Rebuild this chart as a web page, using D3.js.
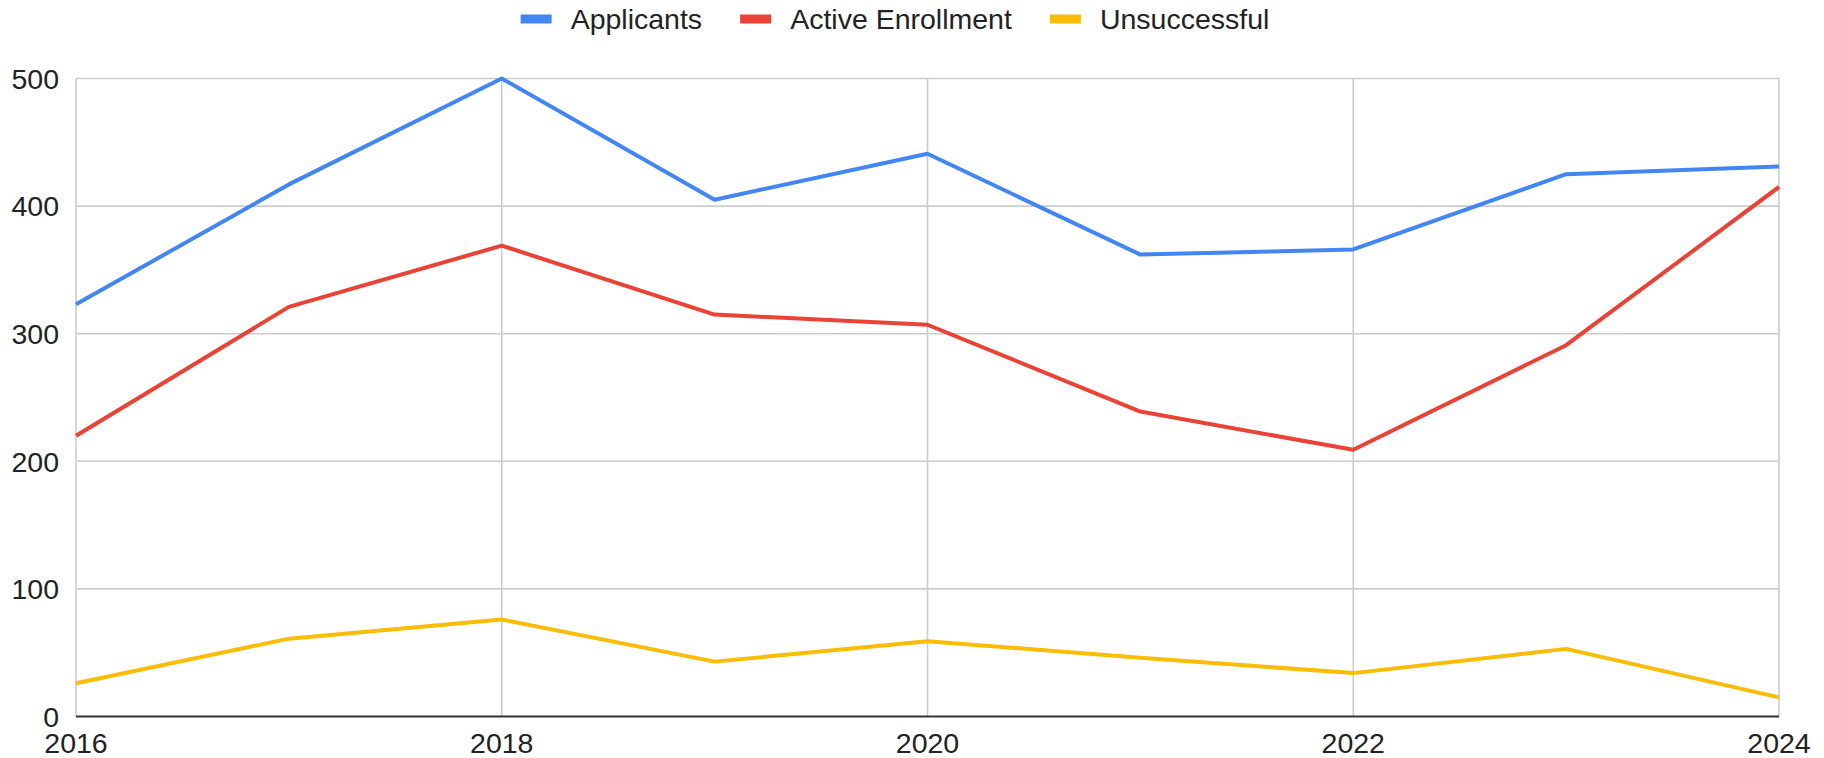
<!DOCTYPE html>
<html>
<head>
<meta charset="utf-8">
<script src="https://cdn.jsdelivr.net/npm/d3@7"></script>
<style>
  html, body { margin: 0; padding: 0; background: #fff; }
  svg { display: block; font-family: "Liberation Sans", Arial, sans-serif; }
</style>
</head>
<body>
<svg id="chart" width="1824" height="758"></svg>
<script>
const years = [2016, 2017, 2018, 2019, 2020, 2021, 2022, 2023, 2024];
const applicants = [323, 417, 500, 405, 441, 362, 366, 425, 431];
const activeEnrollment = [220, 321, 369, 315, 307, 239, 209, 291, 415];
const unsuccessful = [26, 61, 76, 43, 59, 46, 34, 53, 15];
const seriesNames = ["Applicants", "Active Enrollment", "Unsuccessful"];
const seriesColors = ["#4285F4", "#EA4335", "#FBBC04"];
const yTicks = [0, 100, 200, 300, 400, 500];
const xTicks = [2016, 2018, 2020, 2022, 2024];

const series = [applicants, activeEnrollment, unsuccessful].map((vals, i) => ({
  name: seriesNames[i],
  color: seriesColors[i],
  values: vals.map((v, j) => ({ year: years[j], value: v }))
}));

const svg = d3.select("#chart");
const margin = { top: 78.5, right: 45, bottom: 41.5, left: 76 };
const width = 1824, height = 758;

const x = d3.scaleLinear()
  .domain([2016, 2024])
  .range([margin.left, width - margin.right]);

const y = d3.scaleLinear()
  .domain([0, 500])
  .range([height - margin.bottom, margin.top]);

const FONT = 28.5;
const TEXT = "#222222";
const GRID = "#cccccc";

// horizontal grid
svg.append("g")
  .selectAll("line")
  .data(yTicks.filter(d => d !== 0))
  .join("line")
  .attr("x1", x.range()[0])
  .attr("x2", x.range()[1])
  .attr("y1", d => y(d))
  .attr("y2", d => y(d))
  .attr("stroke", GRID)
  .attr("stroke-width", 1.6);

// vertical grid
svg.append("g")
  .selectAll("line")
  .data(xTicks)
  .join("line")
  .attr("x1", d => x(d))
  .attr("x2", d => x(d))
  .attr("y1", y(500))
  .attr("y2", y(0))
  .attr("stroke", GRID)
  .attr("stroke-width", 1.6);

// y labels
svg.append("g")
  .selectAll("text")
  .data(yTicks)
  .join("text")
  .attr("x", margin.left - 17)
  .attr("y", d => y(d))
  .attr("dy", "0.36em")
  .attr("text-anchor", "end")
  .attr("font-size", FONT)
  .attr("fill", TEXT)
  .text(d => d);

// x labels
svg.append("g")
  .selectAll("text")
  .data(xTicks)
  .join("text")
  .attr("x", d => x(d))
  .attr("y", 753)
  .attr("text-anchor", "middle")
  .attr("font-size", FONT)
  .attr("fill", TEXT)
  .text(d => d);

// lines
const line = d3.line()
  .x(d => x(d.year))
  .y(d => y(d.value));

svg.append("g")
  .selectAll("path")
  .data(series)
  .join("path")
  .attr("d", d => line(d.values))
  .attr("fill", "none")
  .attr("stroke", d => d.color)
  .attr("stroke-width", 4)
  .attr("stroke-linejoin", "round");

// baseline
svg.append("line")
  .attr("x1", x.range()[0])
  .attr("x2", x.range()[1])
  .attr("y1", y(0))
  .attr("y2", y(0))
  .attr("stroke", "#333333")
  .attr("stroke-width", 2);

// legend
const legend = svg.append("g");
const swatchW = 31, swatchH = 9, swatchGap = 19, itemGap = 38;
let cursor = 0;
const items = series.map(s => {
  const g = legend.append("g");
  g.append("rect")
    .attr("x", 0)
    .attr("y", -swatchH / 2)
    .attr("width", swatchW)
    .attr("height", swatchH)
    .attr("fill", s.color);
  const t = g.append("text")
    .attr("x", swatchW + swatchGap)
    .attr("y", 0)
    .attr("dy", "0.36em")
    .attr("font-size", FONT)
    .attr("fill", TEXT)
    .text(s.name);
  const w = swatchW + swatchGap + t.node().getComputedTextLength();
  g.attr("transform", `translate(${cursor},0)`);
  cursor += w + itemGap;
  return w;
});
const legendWidth = cursor - itemGap;
legend.attr("transform", `translate(${895 - legendWidth / 2},19)`);
</script>
</body>
</html>
